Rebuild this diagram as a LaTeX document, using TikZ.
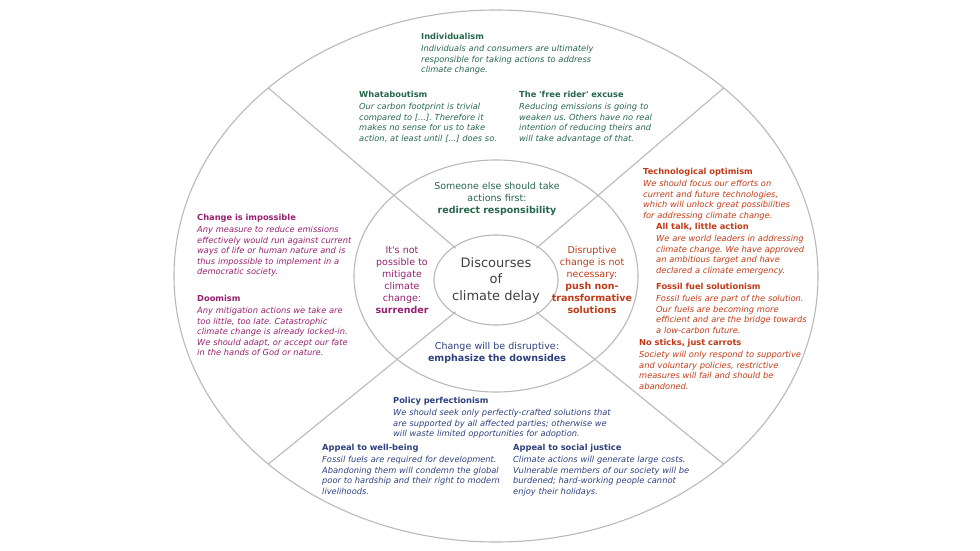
\documentclass[tikz,border=0pt]{standalone}
\usepackage{fontspec}
\setmainfont{DejaVu Sans}
\usetikzlibrary{calc, shapes.geometric}
\frenchspacing

\definecolor{ringgrey}{RGB}{185,185,185}
\definecolor{coregrey}{RGB}{64,64,64}
\definecolor{redirectgreen}{RGB}{38,102,74}
\definecolor{surrendermag}{RGB}{150,32,112}
\definecolor{nontransred}{RGB}{192,58,22}
\definecolor{downsideblue}{RGB}{44,64,126}

\newcommand{\claimsize}{\fontsize{8.3}{10.5}\selectfont\frenchspacing}
\newcommand{\ringsize}{\fontsize{9.5}{12}\selectfont}
\newcommand{\claimhead}[1]{\textbf{#1}\\[1.5pt]\itshape}

\begin{document}
\begin{tikzpicture}[x=1pt, y=-1pt,
    ring/.style={draw=ringgrey, line width=1.1pt},
    claim/.style={anchor=north west, align=left, inner sep=0pt, text width=250pt, font=\claimsize},
    ringlabel/.style={anchor=north, align=center, inner sep=0pt, text width=150pt, font=\ringsize}]
  \useasboundingbox (0,0) rectangle (980,551);
  \coordinate (core) at (496,276);

  % the three rings
  \draw[ring] (core) ellipse [x radius=322, y radius=266];
  \draw[ring] (core) ellipse [x radius=142, y radius=116];
  \node[ring, ellipse, minimum width=114pt, minimum height=90pt, inner sep=0pt,
        align=center, text=coregrey, font=\fontsize{13}{16.5}\selectfont] (hub) at (496,280)
        {Discourses\\of\\climate delay};

  % dividers between the four discourses
  \foreach \a in {45,135,225,315} {
    \coordinate (in\a) at ($(hub.center)+(\a:57 and 45)$);
    \coordinate (out\a) at ($(core)+(\a:322 and 266)$);
    \draw[ring] (in\a) -- (out\a);
  }

  % middle ring
  \node[ringlabel, text=redirectgreen] (redirect) at (497,182.5)
    {Someone else should take\\actions first:\\\textbf{redirect responsibility}};
  \node[ringlabel, text=surrendermag, text width=80pt] (surrender) at (402,246)
    {It\textquotesingle s not\\possible to\\mitigate\\climate\\change:\\\textbf{surrender}};
  \node[ringlabel, text=nontransred, text width=90pt] (nontrans) at (592,246)
    {Disruptive\\change is not\\necessary:\\\textbf{push non-}\\\textbf{transformative}\\\textbf{solutions}};
  \node[ringlabel, text=downsideblue] (downside) at (497,342.5)
    {Change will be disruptive:\\\textbf{emphasize the downsides}};

  % redirect responsibility
  \node[claim, text=redirectgreen] (individualism) at (421,33)
    {\claimhead{Individualism}Individuals and consumers are ultimately\\responsible for taking actions to address\\climate change.};
  \node[claim, text=redirectgreen] (whatabout) at (359,91)
    {\claimhead{Whataboutism}Our carbon footprint is trivial\\compared to [...]. Therefore it\\makes no sense for us to take\\action, at least until [...] does so.};
  \node[claim, text=redirectgreen] (freerider) at (519,91)
    {\claimhead{The \textquotesingle free rider\textquotesingle\ excuse}Reducing emissions is going to\\weaken us. Others have no real\\intention of reducing theirs and\\will take advantage of that.};

  % surrender
  \node[claim, text=surrendermag] (impossible) at (197,214)
    {\claimhead{Change is impossible}Any measure to reduce emissions\\effectively would run against current\\ways of life or human nature and is\\thus impossible to implement in a\\democratic society.};
  \node[claim, text=surrendermag] (doomism) at (197,295)
    {\claimhead{Doomism}Any mitigation actions we take are\\too little, too late. Catastrophic\\climate change is already locked-in.\\We should adapt, or accept our fate\\in the hands of God or nature.};

  % push non-transformative solutions
  \node[claim, text=nontransred] (techopt) at (643,168)
    {\claimhead{Technological optimism}We should focus our efforts on\\current and future technologies,\\which will unlock great possibilities\\for addressing climate change.};
  \node[claim, text=nontransred] (alltalk) at (656,223)
    {\claimhead{All talk, little action}We are world leaders in addressing\\climate change. We have approved\\an ambitious target and have\\declared a climate emergency.};
  \node[claim, text=nontransred] (fossil) at (656,283)
    {\claimhead{Fossil fuel solutionism}Fossil fuels are part of the solution.\\Our fuels are becoming more\\efficient and are the bridge towards\\a low-carbon future.};
  \node[claim, text=nontransred] (carrots) at (639,339)
    {\claimhead{No sticks, just carrots}Society will only respond to supportive\\and voluntary policies, restrictive\\measures will fail and should be\\abandoned.};

  % emphasize the downsides
  \node[claim, text=downsideblue] (perfection) at (393,397)
    {\claimhead{Policy perfectionism}We should seek only perfectly-crafted solutions that\\are supported by all affected parties; otherwise we\\will waste limited opportunities for adoption.};
  \node[claim, text=downsideblue] (wellbeing) at (322,444)
    {\claimhead{Appeal to well-being}Fossil fuels are required for development.\\Abandoning them will condemn the global\\poor to hardship and their right to modern\\livelihoods.};
  \node[claim, text=downsideblue] (justice) at (513,444)
    {\claimhead{Appeal to social justice}Climate actions will generate large costs.\\Vulnerable members of our society will be\\burdened; hard-working people cannot\\enjoy their holidays.};
\end{tikzpicture}
\end{document}
